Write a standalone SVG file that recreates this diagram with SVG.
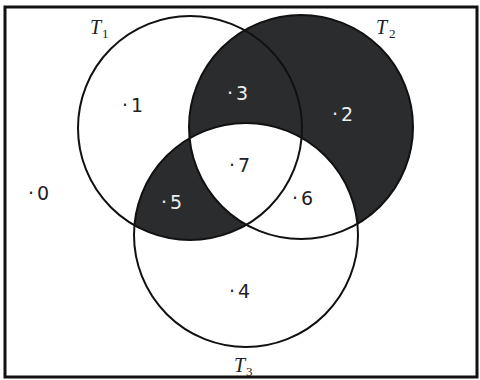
<svg xmlns="http://www.w3.org/2000/svg" width="480" height="380" viewBox="0 0 480 380">
<style>
.ring{fill:none;stroke:#111;stroke-width:2}
.num{font-family:"DejaVu Sans",sans-serif;font-size:19px;fill:#222}
.num.inv{fill:#eeeeee}
.lab{font-family:"Liberation Serif",serif;font-style:italic;font-size:20px;fill:#222}
.sub{font-family:"Liberation Serif",serif;font-size:13px;fill:#222}
</style>
<defs>
<mask id="m5" maskUnits="userSpaceOnUse" x="0" y="0" width="480" height="380">
<circle cx="190" cy="128" r="112" fill="#fff"/>
<circle cx="301" cy="127" r="112" fill="#000"/>
</mask>
</defs>
<rect x="0" y="0" width="480" height="380" fill="#fff"/>
<rect x="5" y="7" width="472" height="370" fill="none" stroke="#111" stroke-width="3"/>
<g id="shading">
<circle cx="301" cy="127" r="112" fill="#2b2c2e"/>
<circle cx="246" cy="235" r="112" fill="#fff"/>
<circle cx="246" cy="235" r="112" fill="#2b2c2e" mask="url(#m5)"/>
</g>
<g id="T1">
<circle class="ring" cx="190" cy="128" r="112"/>
<text class="lab" x="90" y="34">T</text><text class="sub" x="102" y="38">1</text>
</g>
<g id="T2">
<circle class="ring" cx="301" cy="127" r="112"/>
<text class="lab" x="376" y="34">T</text><text class="sub" x="389" y="38">2</text>
</g>
<g id="T3">
<circle class="ring" cx="246" cy="235" r="112"/>
<text class="lab" x="234" y="372">T</text><text class="sub" x="246" y="376">3</text>
</g>
<g id="elements">
<text class="num" x="122" y="112">·<tspan dx="3">1</tspan></text>
<text class="num inv" x="227" y="100">·<tspan dx="3">3</tspan></text>
<text class="num inv" x="332" y="121">·<tspan dx="3">2</tspan></text>
<text class="num" x="28" y="200">·<tspan dx="3">0</tspan></text>
<text class="num inv" x="161" y="209">·<tspan dx="3">5</tspan></text>
<text class="num" x="229" y="172">·<tspan dx="3">7</tspan></text>
<text class="num" x="292" y="205">·<tspan dx="3">6</tspan></text>
<text class="num" x="229" y="298">·<tspan dx="3">4</tspan></text>
</g>
</svg>
